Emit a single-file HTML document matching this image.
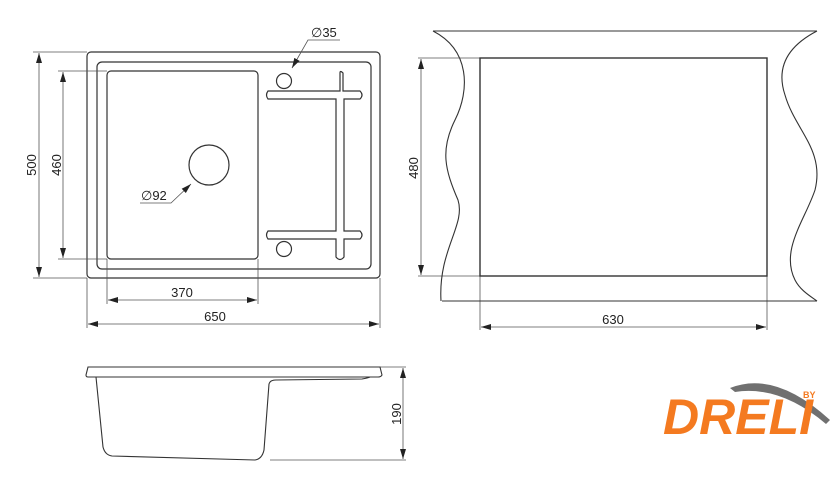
<!DOCTYPE html>
<html><head><style>
html,body{margin:0;padding:0;background:#fff;}
svg{display:block;}
text{font-family:"Liberation Sans",sans-serif;fill:#222;}
</style></head><body>
<svg width="840" height="481" viewBox="0 0 840 481" xmlns="http://www.w3.org/2000/svg">
<defs>
<marker id="a" viewBox="0 0 10 6" refX="10" refY="3" markerWidth="10" markerHeight="6" orient="auto-start-reverse" markerUnits="userSpaceOnUse"><path d="M0,0 L10,3 L0,6z" fill="#222"/></marker>
</defs>
<g fill="none" stroke="#333" stroke-width="1.2">
<!-- top view -->
<rect x="87" y="52" width="293" height="226" rx="4"/>
<rect x="97" y="62" width="274" height="207" rx="5"/>
<rect x="107" y="71" width="151" height="188" rx="4"/>
<circle cx="209" cy="165" r="20"/>
<circle cx="284" cy="81" r="7.5"/>
<circle cx="284" cy="249" r="7.5"/>
<path d="M268,91 H340 V73 Q340,70 343,73 V91 H360 Q364,95 360,99 H344 V231 H360 Q364,235 360,239 H344 V257 Q340,262 336,257 V239 H268 Q265,235 268,231 H336 V99 H268 Q265,95 268,91Z"/>
</g>
<g fill="none" stroke="#555" stroke-width="0.8">
<line x1="33" y1="52" x2="87" y2="52"/><line x1="33" y1="278" x2="87" y2="278"/>
<line x1="58" y1="71" x2="107" y2="71"/><line x1="58" y1="259" x2="107" y2="259"/>
<line x1="107" y1="259" x2="107" y2="304"/><line x1="258" y1="259" x2="258" y2="304"/>
<line x1="87" y1="278" x2="87" y2="328"/><line x1="380" y1="278" x2="380" y2="328"/>
<line x1="39" y1="53" x2="39" y2="277" marker-start="url(#a)" marker-end="url(#a)"/>
<line x1="63" y1="72" x2="63" y2="258" marker-start="url(#a)" marker-end="url(#a)"/>
<line x1="108" y1="300" x2="257" y2="300" marker-start="url(#a)" marker-end="url(#a)"/>
<line x1="88" y1="324" x2="379" y2="324" marker-start="url(#a)" marker-end="url(#a)"/>
<polyline points="140,203 171,203 191,184" marker-end="url(#a)"/>
<polyline points="340,40 308,40 292,68" marker-end="url(#a)"/>
<!-- right view dims -->
<line x1="418" y1="58" x2="480" y2="58"/><line x1="418" y1="276" x2="480" y2="276"/>
<line x1="421" y1="59" x2="421" y2="275" marker-start="url(#a)" marker-end="url(#a)"/>
<line x1="480" y1="276" x2="480" y2="330"/><line x1="767" y1="276" x2="767" y2="330"/>
<line x1="481" y1="327" x2="766" y2="327" marker-start="url(#a)" marker-end="url(#a)"/>
<line x1="380" y1="367" x2="406" y2="367"/><line x1="270" y1="460" x2="406" y2="460"/>
<line x1="403" y1="368" x2="403" y2="459" marker-start="url(#a)" marker-end="url(#a)"/>
</g>
<g fill="none" stroke="#333" stroke-width="1.1">
<line x1="433" y1="31" x2="817" y2="31"/>
<line x1="442" y1="301" x2="817" y2="301"/>
<path d="M433,31 C470,50 470,90 455,120 C440,150 445,170 458,200 C466,225 438,250 441,301"/>
<path d="M817,31 C790,45 775,65 785,95 C795,130 825,150 815,190 C805,220 780,250 795,280 C800,290 810,296 817,301"/>
<rect x="480" y="58" width="287" height="218" stroke-width="1.4"/>
<!-- side view -->
<path d="M88,367 H380 L382,375 Q381,377 378,377 H88 Q86,377 86,375 Z"/>
<path d="M96,377 L103,447 Q105,455 112,456 L255,460 Q262,459 264,450 L269,384 Q270,380 276,380 L362,379 Q368,378 370,377"/>
</g>
<g font-size="13">
<text x="32" y="165" text-anchor="middle" transform="rotate(-90 32 165)" dy="4">500</text>
<text x="57" y="165" text-anchor="middle" transform="rotate(-90 57 165)" dy="4">460</text>
<text x="182" y="297" text-anchor="middle">370</text>
<text x="215" y="321" text-anchor="middle">650</text>
<text x="141" y="200">∅92</text>
<text x="311" y="37">∅35</text>
<text x="414" y="168" text-anchor="middle" transform="rotate(-90 414 168)" dy="4">480</text>
<text x="613" y="324" text-anchor="middle">630</text>
<text x="397" y="414" text-anchor="middle" transform="rotate(-90 397 414)" dy="4">190</text>
</g>
<!-- logo -->
<path d="M730,388 Q775,370 830,420 L826,424 Q780,385 735,392 Z" fill="#707070"/>
<text x="663" y="434" font-size="50" font-weight="bold" font-style="italic" style="fill:#f47a20;font-family:'Liberation Sans',sans-serif" textLength="150" lengthAdjust="spacingAndGlyphs">DRELI</text>
<text x="803" y="398" font-size="9" font-weight="bold" style="fill:#f47a20">BY</text>
</svg>
</body></html>
